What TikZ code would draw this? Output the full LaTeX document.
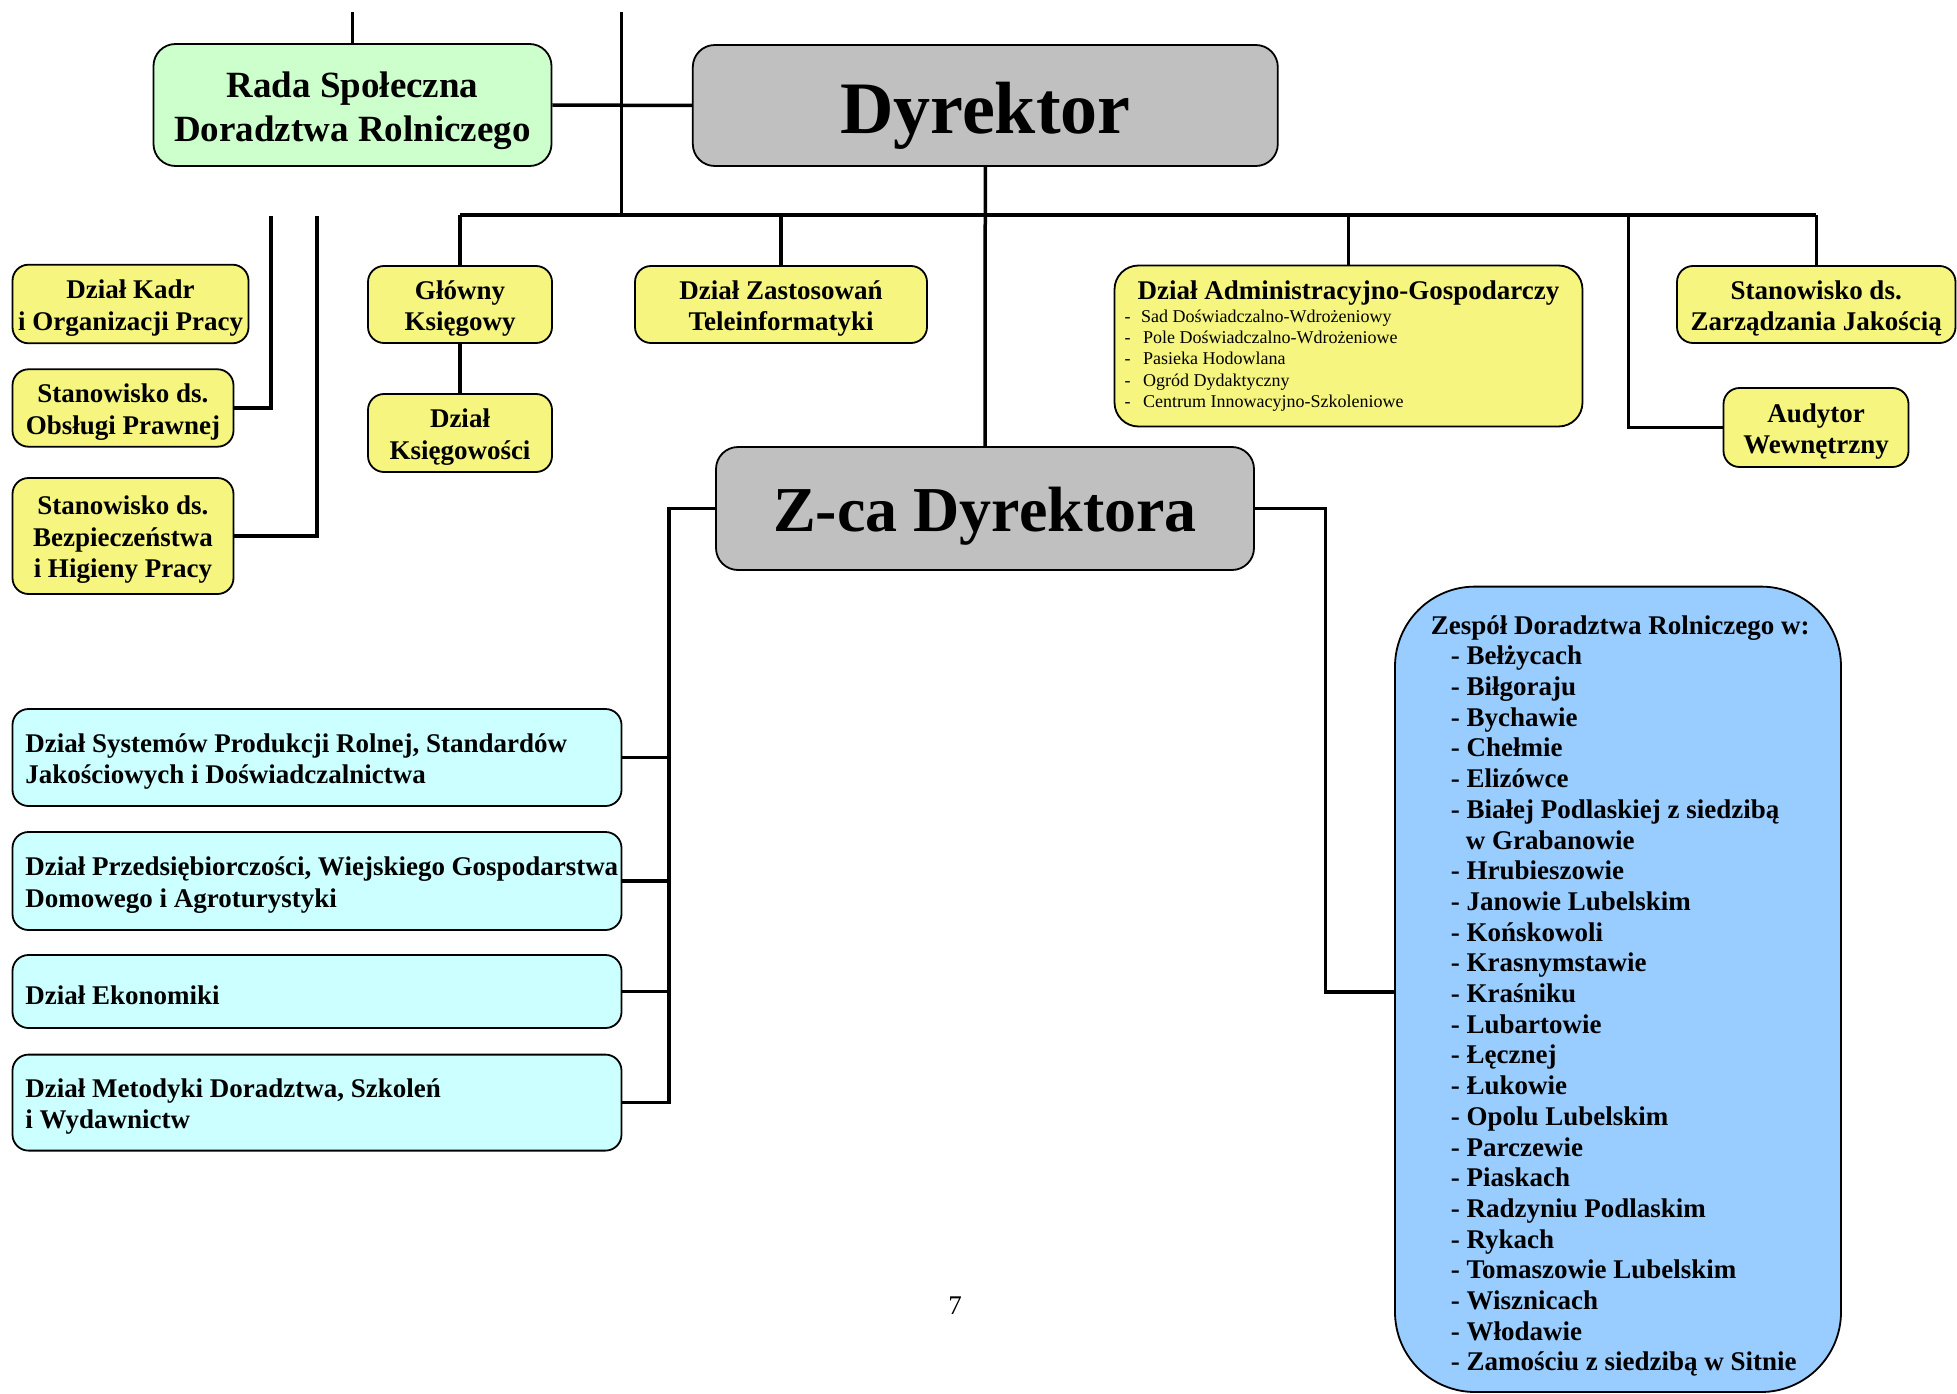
\documentclass[tikz,border=0pt]{standalone}
\usepackage{fontspec}
\setmainfont{Liberation Serif}
\definecolor{rgreen}{HTML}{CCFFCC}
\definecolor{rgray}{HTML}{C0C0C0}
\definecolor{ryellow}{RGB}{245,245,128}
\definecolor{rcyan}{HTML}{CCFFFF}
\definecolor{rblue}{HTML}{99CCFF}
\begin{document}
\begin{tikzpicture}[x=1pt,y=-1pt,
  box/.style={draw=black, line width=1.8pt, rounded corners=16pt, inner sep=0pt},
  ybox/.style={box, fill=ryellow},
  cbox/.style={box, fill=rcyan},
  btxt/.style={inner sep=0pt, align=center, font=\fontsize{27}{31.5}\selectfont\bfseries},
  conn/.style={line width=3.5pt, line join=miter}]
\useasboundingbox (0,0) rectangle (1957,1394);

% top level
\node[box, fill=rgreen, rounded corners=22pt, minimum width=398, minimum height=122] (rada) at (352.5,105) {};
\node[btxt, font=\fontsize{37}{43.7}\selectfont\bfseries] (radat) at ([yshift=-6pt]rada.center) {Rada Społeczna\\Doradztwa Rolniczego};
\node[box, fill=rgray, rounded corners=22pt, minimum width=585, minimum height=121] (dyr) at (985.3,105.5) {};
\node[btxt, font=\fontsize{74}{80}\selectfont\bfseries] (dyrt) at ([yshift=-10pt]dyr.center) {Dyrektor};

% left column
\node[ybox, minimum width=236, minimum height=78.6] (kadr) at (130.5,304) {};
\node[btxt] (kadrt) at ([yshift=-4pt]kadr.center) {Dział Kadr\\i Organizacji Pracy};
\node[ybox, minimum width=221, minimum height=77.4] (obs) at (123,408) {};
\node[btxt] (obst) at ([yshift=-4pt]obs.center) {Stanowisko ds.\\Obsługi Prawnej};
\node[ybox, minimum width=221, minimum height=116] (bhp) at (123,536) {};
\node[btxt] (bhpt) at ([yshift=-4pt]bhp.center) {Stanowisko ds.\\Bezpieczeństwa\\i Higieny Pracy};

% second row
\node[ybox, minimum width=184, minimum height=77] (glo) at (460,304.5) {};
\node[btxt] (glot) at ([yshift=-4pt]glo.center) {Główny\\Księgowy};
\node[ybox, minimum width=184, minimum height=78] (ksi) at (460,433) {};
\node[btxt] (ksit) at ([yshift=-4pt]ksi.center) {Dział\\Księgowości};
\node[ybox, minimum width=292, minimum height=77] (zas) at (781,304.5) {};
\node[btxt] (zast) at ([yshift=-4pt]zas.center) {Dział Zastosowań\\Teleinformatyki};
\node[ybox, rounded corners=24pt, minimum width=468, minimum height=161] (adm) at (1348.5,346) {};
\node[btxt] (admt) at (1348.5,293.5) {Dział Administracyjno-Gospodarczy};
\node[anchor=west, inner sep=0pt, align=left, font=\fontsize{18}{21.2}\selectfont] (adml) at (1124.5,360.5)
  {\makebox[16.5pt][l]{-}Sad Doświadczalno-Wdrożeniowy\\
   \makebox[18.5pt][l]{-}Pole Doświadczalno-Wdrożeniowe\\
   \makebox[18.5pt][l]{-}Pasieka Hodowlana\\
   \makebox[18.5pt][l]{-}Ogród Dydaktyczny\\
   \makebox[18.5pt][l]{-}Centrum Innowacyjno-Szkoleniowe};
\node[ybox, minimum width=278.5, minimum height=77] (zarz) at (1816.25,304.5) {};
\node[btxt] (zarzt) at ([yshift=-4pt]zarz.center) {Stanowisko ds.\\Zarządzania Jakością};
\node[ybox, minimum width=185, minimum height=79] (aud) at (1816,427.5) {};
\node[btxt] (audt) at ([yshift=-4pt]aud.center) {Audytor\\Wewnętrzny};

% deputy
\node[box, fill=rgray, rounded corners=22pt, minimum width=538, minimum height=123] (zca) at (985,508.5) {};
\node[btxt, font=\fontsize{64}{70}\selectfont\bfseries] (zcat) at ([yshift=-7.5pt]zca.center) {Z-ca Dyrektora};

% cyan departments
\node[cbox, minimum width=609, minimum height=97] (c1) at (317,757.5) {};
\node[btxt, anchor=west, align=left] (c1t) at ([xshift=13.5pt, yshift=-4pt]c1.west) {Dział Systemów Produkcji Rolnej, Standardów\\Jakościowych i Doświadczalnictwa};
\node[cbox, minimum width=609, minimum height=98] (c2) at (317,881) {};
\node[btxt, anchor=west, align=left] (c2t) at ([xshift=13.5pt, yshift=-4pt]c2.west) {Dział Przedsiębiorczości, Wiejskiego Gospodarstwa\\Domowego i Agroturystyki};
\node[cbox, minimum width=609, minimum height=73] (c3) at (317,991.5) {};
\node[btxt, anchor=west, align=left] (c3t) at ([xshift=13.5pt, yshift=-4pt]c3.west) {Dział Ekonomiki};
\node[cbox, minimum width=609, minimum height=96] (c4) at (317,1102.6) {};
\node[btxt, anchor=west, align=left] (c4t) at ([xshift=13.5pt, yshift=-4pt]c4.west) {Dział Metodyki Doradztwa, Szkoleń\\i Wydawnictw};

% Zespol
\node[box, fill=rblue, rounded corners=80pt, minimum width=446, minimum height=805.4] (zes) at (1618,989.3) {};
\node[anchor=west, inner sep=0pt, align=left, font=\fontsize{27}{30.7}\selectfont\bfseries] (zest)
  at ([xshift=36.5pt, yshift=-6.7pt]zes.west)
  {Zespół Doradztwa Rolniczego w:\\
   \hspace*{20pt}- Bełżycach\\
   \hspace*{20pt}- Biłgoraju\\
   \hspace*{20pt}- Bychawie\\
   \hspace*{20pt}- Chełmie\\
   \hspace*{20pt}- Elizówce\\
   \hspace*{20pt}- Białej Podlaskiej z siedzibą\\
   \hspace*{35pt}w Grabanowie\\
   \hspace*{20pt}- Hrubieszowie\\
   \hspace*{20pt}- Janowie Lubelskim\\
   \hspace*{20pt}- Końskowoli\\
   \hspace*{20pt}- Krasnymstawie\\
   \hspace*{20pt}- Kraśniku\\
   \hspace*{20pt}- Lubartowie\\
   \hspace*{20pt}- Łęcznej\\
   \hspace*{20pt}- Łukowie\\
   \hspace*{20pt}- Opolu Lubelskim\\
   \hspace*{20pt}- Parczewie\\
   \hspace*{20pt}- Piaskach\\
   \hspace*{20pt}- Radzyniu Podlaskim\\
   \hspace*{20pt}- Rykach\\
   \hspace*{20pt}- Tomaszowie Lubelskim\\
   \hspace*{20pt}- Wisznicach\\
   \hspace*{20pt}- Włodawie\\
   \hspace*{20pt}- Zamościu z siedzibą w Sitnie};

% page number
\node[font=\fontsize{27}{30}\selectfont] (pg) at (955,1306) {7};

% connectors
\coordinate (rtop) at (rada.north |- 0,12);
\coordinate (vtop) at (621.5,12);
\coordinate (vbot) at (621.5,215);
\coordinate (busL) at (glo.north |- 0,215);
\coordinate (busR) at (zarz.north |- 0,215);
\coordinate (audj) at (1628.6,215);
\coordinate (l1) at (270.8,216);
\coordinate (l2) at (317,216);
\coordinate (spine) at (669,508.5);
\coordinate (rj) at (1325.4,508.5);
\coordinate (zesj) at (1395,992);

\draw[conn] (rtop) -- (rada.north);
\draw[conn] (vtop) -- (vbot);
\draw[conn] (rada.east) -- (dyr.west);
\draw[conn] (busL) -- (busR);
\draw[conn] (dyr.south) -- (zca.north);
\draw[conn] (glo.north) -- (busL);
\draw[conn] (zas.north) -- (zas.north |- busL);
\draw[conn] (adm.north) -- (adm.north |- busL);
\draw[conn] (zarz.north) -- (busR);
\draw[conn] (audj) |- (aud.west);
\draw[conn] (glo.south) -- (ksi.north);
\draw[conn] (l1) |- (obs.east);
\draw[conn] (l2) |- (bhp.east);
\draw[conn] (zca.west) -- (spine) |- (c4.east);
\foreach \n in {c1,c2,c3} \draw[conn] (\n.east) -- (\n.east -| spine);
\draw[conn] (zca.east) -- (rj) |- (zesj);
\end{tikzpicture}
\end{document}
